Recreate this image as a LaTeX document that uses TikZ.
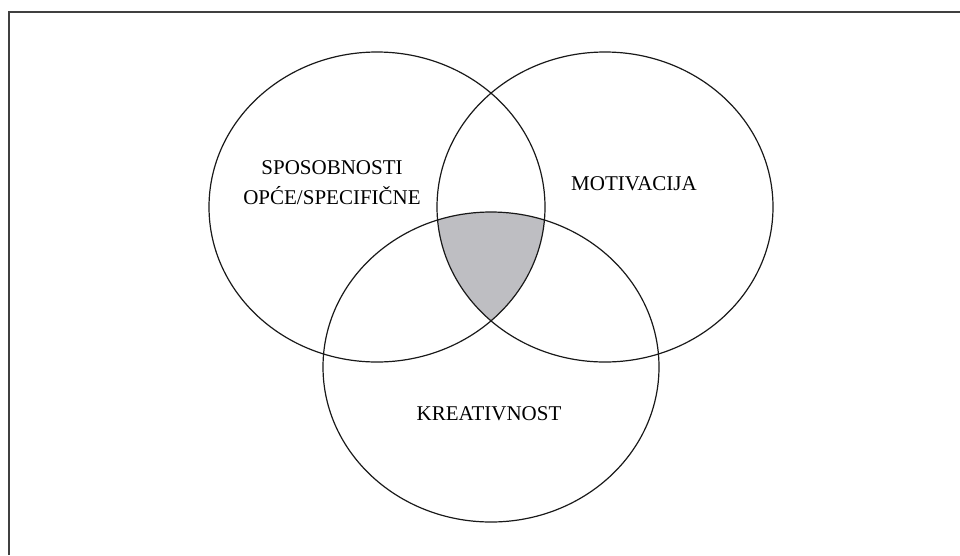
\documentclass[tikz,border=0pt]{standalone}
\usepackage{fontspec}
\setmainfont{Liberation Serif}
\definecolor{vennfill}{RGB}{190,190,194}
\begin{document}
\begin{tikzpicture}[x=1pt,y=-1pt,
  ring/.style={draw=black!90,line width=1.2pt},
  lbl/.style={font=\fontsize{21}{30}\selectfont,align=center,inner sep=0pt}]
\useasboundingbox (0,0) rectangle (960,555);
\draw[line width=1.6pt,black!75] (9,555) -- (9,12) -- (960,12);
\begin{scope}
  \clip (377,207) ellipse [x radius=168, y radius=155];
  \clip (605,207) ellipse [x radius=168, y radius=155];
  \fill[vennfill] (491,367) ellipse [x radius=168, y radius=155];
\end{scope}
\draw[ring] (377,207) ellipse [x radius=168, y radius=155];
\draw[ring] (605,207) ellipse [x radius=168, y radius=155];
\draw[ring] (491,367) ellipse [x radius=168, y radius=155];
\node[lbl] (a) at (332,183) {SPOSOBNOSTI\\OPĆE/SPECIFIČNE};
\node[lbl] (b) at (634,184) {MOTIVACIJA};
\node[lbl] (c) at (489,414) {KREATIVNOST};
\end{tikzpicture}
\end{document}
